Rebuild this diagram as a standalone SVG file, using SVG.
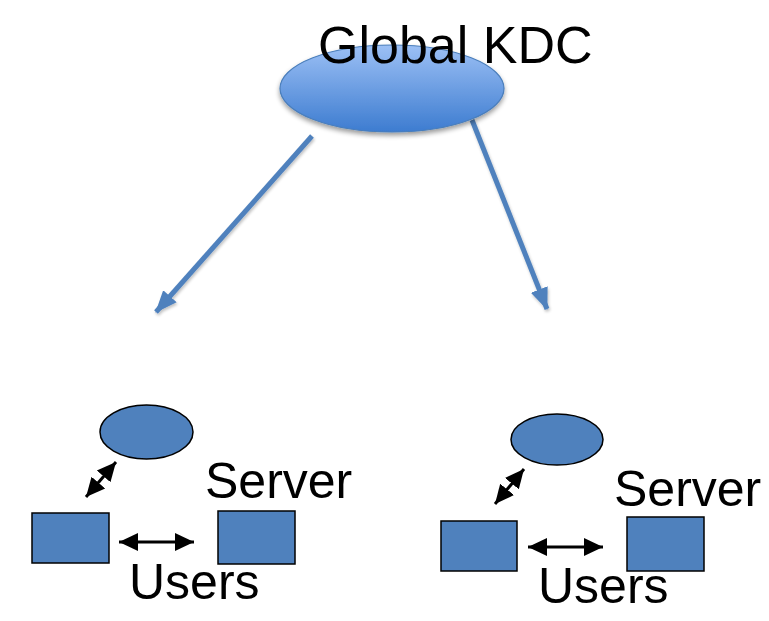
<svg xmlns="http://www.w3.org/2000/svg" width="769" height="621" viewBox="0 0 769 621">
<defs>
<linearGradient id="kdcGrad" x1="0" y1="0" x2="0" y2="1">
<stop offset="0" stop-color="#9cc0f5"/>
<stop offset="1" stop-color="#3d7cd0"/>
</linearGradient>
<filter id="shadow" x="-20%" y="-20%" width="140%" height="160%">
<feGaussianBlur in="SourceAlpha" stdDeviation="2.5"/>
<feOffset dy="3" result="b"/>
<feComponentTransfer><feFuncA type="linear" slope="0.4"/></feComponentTransfer>
<feMerge><feMergeNode/><feMergeNode in="SourceGraphic"/></feMerge>
</filter>
<filter id="lshadow" x="-20%" y="-20%" width="140%" height="140%">
<feGaussianBlur in="SourceAlpha" stdDeviation="1.5"/>
<feOffset dx="1" dy="2"/>
<feComponentTransfer><feFuncA type="linear" slope="0.25"/></feComponentTransfer>
<feMerge><feMergeNode/><feMergeNode in="SourceGraphic"/></feMerge>
</filter>
<marker id="blueHead" markerUnits="userSpaceOnUse" markerWidth="24" markerHeight="24" viewBox="0 0 24 24" refX="21" refY="12" orient="auto">
<path d="M0,3 L22,12 L0,21 Z" fill="#4f81bd"/>
</marker>
<marker id="blackHead" markerUnits="userSpaceOnUse" markerWidth="20" markerHeight="20" viewBox="0 0 20 20" refX="19" refY="10" orient="auto-start-reverse">
<path d="M0,1 L19,10 L0,19 Z" fill="#000"/>
</marker>
</defs>
<style>
.lbl{font-family:"Liberation Sans",Arial,sans-serif;fill:#000}
.box{fill:#4f81bd;stroke:#000;stroke-width:1.5}
.blue{stroke:#4f81bd;stroke-width:5;fill:none;marker-end:url(#blueHead)}
.dbl{stroke:#000;stroke-width:3;fill:none;marker-start:url(#blackHead);marker-end:url(#blackHead)}
</style>
<rect width="769" height="621" fill="#fff"/>
<g id="connectors">
<g filter="url(#lshadow)">
<line class="blue" x1="312" y1="136" x2="156" y2="312"/>
<line class="blue" x1="472" y1="120" x2="547" y2="309"/>
</g>
<line class="dbl" x1="86" y1="497" x2="116" y2="462"/>
<line class="dbl" x1="119" y1="542" x2="194" y2="542"/>
<line class="dbl" x1="495" y1="504" x2="524" y2="469"/>
<line class="dbl" x1="528" y1="547" x2="603" y2="547"/>
</g>
<g id="global-kdc">
<ellipse cx="392" cy="88.5" rx="112" ry="43.5" fill="url(#kdcGrad)" stroke="#4a7ebb" stroke-width="1.2" filter="url(#shadow)"/>
<text class="lbl" x="318" y="63" font-size="52">Global KDC</text>
</g>
<g id="kdc-left"><ellipse class="box" cx="146.5" cy="432" rx="46.5" ry="27"/></g>
<g id="user-left"><rect class="box" x="32" y="513" width="77" height="50"/><text class="lbl" x="129" y="599" font-size="50">Users</text></g>
<g id="server-left"><rect class="box" x="218" y="511" width="77" height="53"/><text class="lbl" x="205" y="498" font-size="50">Server</text></g>
<g id="kdc-right"><ellipse class="box" cx="557" cy="439.5" rx="46" ry="25.5"/></g>
<g id="user-right"><rect class="box" x="441" y="521" width="76" height="50"/><text class="lbl" x="538" y="603" font-size="50">Users</text></g>
<g id="server-right"><rect class="box" x="627" y="517" width="77" height="54"/><text class="lbl" x="614" y="506" font-size="50">Server</text></g>
</svg>
